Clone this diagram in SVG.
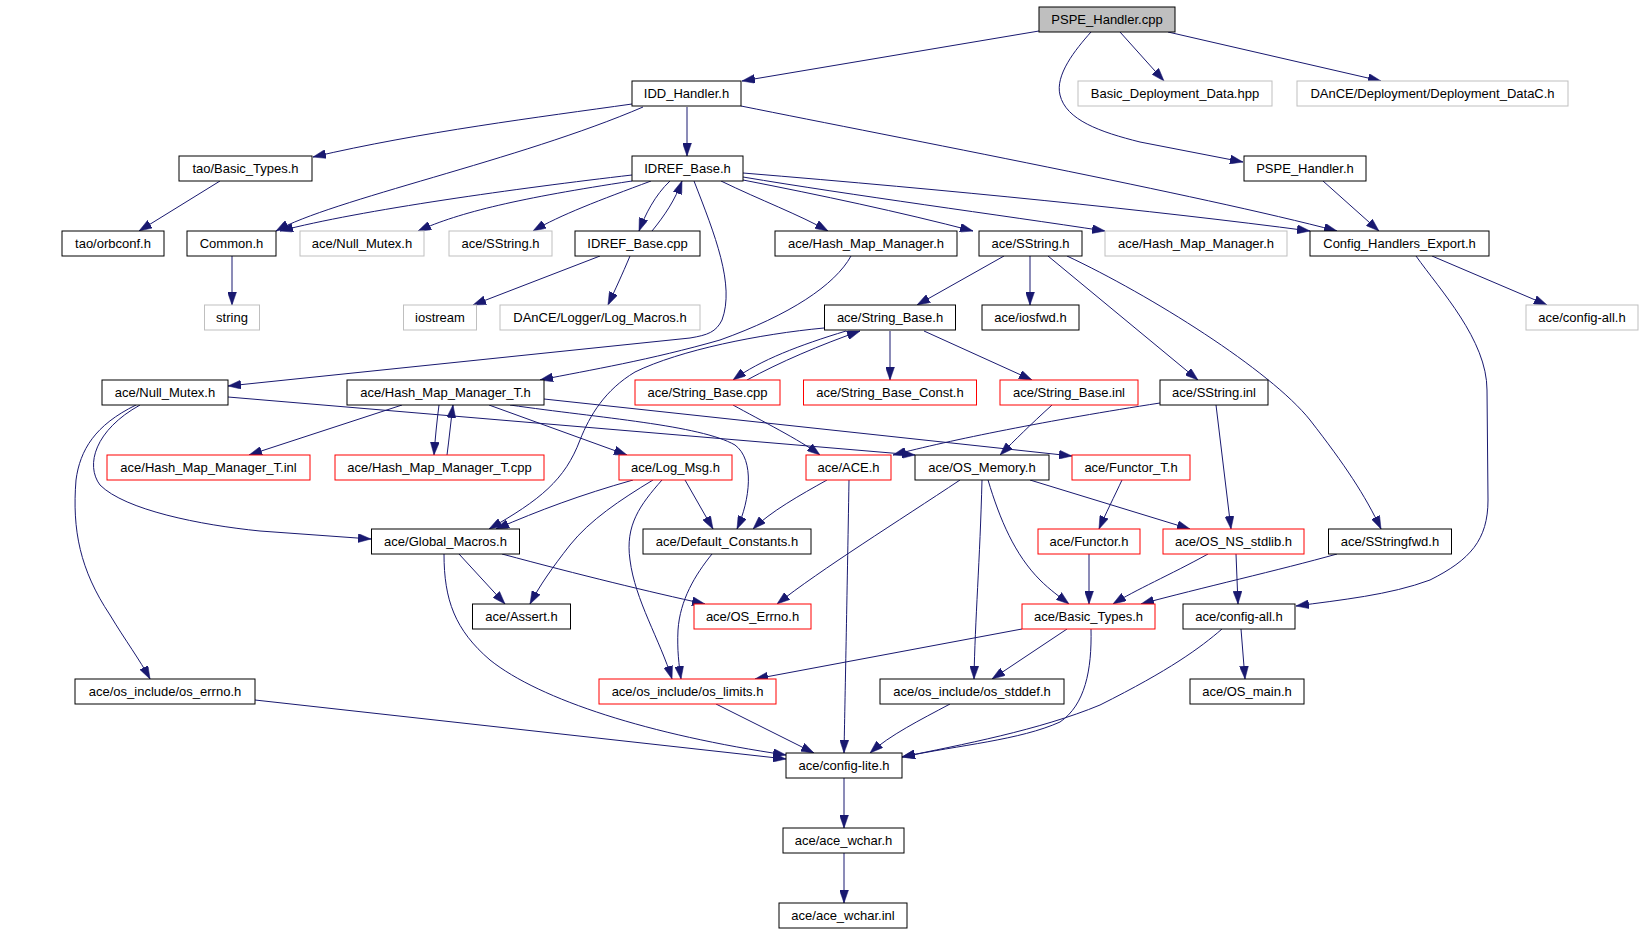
<svg xmlns="http://www.w3.org/2000/svg" width="1643" height="933" viewBox="0 0 1643 933">
<style>
rect{fill:#fff;stroke:#000;stroke-width:1}
.g rect{stroke:#bfbfbf}
.r rect{stroke:#ff0000}
.root rect{fill:#bfbfbf}
text{font-family:"Liberation Sans",Arial,sans-serif;font-size:13px;fill:#000;text-anchor:middle}
#edges path{fill:none;stroke:#191970;stroke-width:1;marker-end:url(#arr)}
</style>
<defs>
<marker id="arr" markerUnits="userSpaceOnUse" markerWidth="13" markerHeight="9" refX="13" refY="4.5" orient="auto">
<path d="M0,0 L13,4.5 L0,9 z" fill="#191970" stroke="#191970" stroke-width="0.5"/>
</marker>
</defs>
<rect x="0" y="0" width="1643" height="933" style="stroke:none;fill:#fff"/>
<g id="edges">
<path d="M1039,31 L742,81"/>
<path d="M1091,32 C1075,50 1055,75 1060,95 C1066,120 1100,132 1140,142 L1243,162"/>
<path d="M1120,32 L1164,81"/>
<path d="M1168,32 L1381,81"/>
<path d="M632,104 C540,117 420,132 313,157"/>
<path d="M643,107 C520,160 330,200 276,231"/>
<path d="M687,107 L687,156"/>
<path d="M741,106 C900,138 1200,195 1337,231"/>
<path d="M220,181 L139,231"/>
<path d="M232,256 L232,305"/>
<path d="M632,175 C520,188 360,210 280,231"/>
<path d="M632,181 C520,198 460,212 418,231"/>
<path d="M651,181 C600,200 560,215 533,231"/>
<path d="M670,181 C655,195 645,215 639,231"/>
<path d="M652,231 C665,215 675,200 682,181"/>
<path d="M694,181 C715,235 735,285 722,320 C716,332 708,335 690,338 L228,386"/>
<path d="M721,181 C760,200 800,215 828,231"/>
<path d="M743,180 C820,195 900,212 973,231"/>
<path d="M743,177 C850,195 1000,215 1105,231"/>
<path d="M743,173 C950,190 1150,210 1310,231"/>
<path d="M1323,181 L1379,231"/>
<path d="M1432,256 L1547,305"/>
<path d="M1416,256 C1440,290 1487,340 1487,390 L1488,500 C1488,540 1470,560 1430,580 C1390,595 1340,600 1296,606"/>
<path d="M1004,256 L917,305"/>
<path d="M1030,256 L1030,305"/>
<path d="M1048,256 L1198,380"/>
<path d="M1067,256 C1150,295 1270,370 1310,420 C1345,465 1365,495 1381,529"/>
<path d="M846,331 C800,345 760,360 733,380"/>
<path d="M747,380 C780,362 820,345 860,331"/>
<path d="M890,331 L890,380"/>
<path d="M924,331 L1032,380"/>
<path d="M824,328 C760,334 680,350 635,372 C605,390 590,415 580,440 C565,480 540,500 489,529"/>
<path d="M851,256 C835,285 790,315 720,340 C650,360 590,370 540,380"/>
<path d="M1160,403 C1050,420 950,440 893,455"/>
<path d="M1216,405 L1231,529"/>
<path d="M1052,405 C1030,425 1015,440 1000,455"/>
<path d="M733,405 C760,420 800,440 820,455"/>
<path d="M140,405 C95,430 85,465 100,485 C125,510 200,525 260,531 L371,539"/>
<path d="M136,405 C95,425 80,450 76,480 C72,530 80,570 110,615 C125,640 140,660 150,679"/>
<path d="M228,397 L915,455"/>
<path d="M402,405 L249,455"/>
<path d="M439,405 C437,420 435,440 434,455"/>
<path d="M447,455 C449,440 451,420 453,405"/>
<path d="M489,405 L627,455"/>
<path d="M510,405 C600,418 700,425 735,445 C755,460 750,500 737,529"/>
<path d="M544,399 L1072,456"/>
<path d="M633,480 C580,495 540,510 496,529"/>
<path d="M653,480 C620,500 590,520 570,545 C552,568 540,585 530,604"/>
<path d="M662,480 C640,505 625,525 630,560 C635,600 660,640 672,679"/>
<path d="M685,480 L713,529"/>
<path d="M827,480 C800,495 770,512 753,529"/>
<path d="M849,480 C847,600 845,700 844,753"/>
<path d="M960,480 C900,520 820,570 777,604"/>
<path d="M982,480 C980,560 975,620 974,679"/>
<path d="M988,480 C1000,520 1015,555 1040,580 C1050,590 1060,597 1069,604"/>
<path d="M1030,480 L1190,529"/>
<path d="M1122,480 C1115,495 1105,515 1099,529"/>
<path d="M1089,554 L1089,604"/>
<path d="M1208,554 C1170,575 1135,590 1113,604"/>
<path d="M1236,554 L1238,604"/>
<path d="M1337,554 C1280,570 1200,588 1141,604"/>
<path d="M459,554 L505,604"/>
<path d="M502,554 C580,575 650,592 705,604"/>
<path d="M444,554 C444,600 455,630 490,660 C540,700 650,735 786,755"/>
<path d="M255,700 L786,759"/>
<path d="M1022,629 L755,679"/>
<path d="M1067,629 L992,679"/>
<path d="M1091,629 C1092,670 1085,705 1060,722 C1020,740 960,745 902,757"/>
<path d="M1241,629 L1245,679"/>
<path d="M1222,629 C1200,648 1170,670 1100,705 C1040,730 960,745 902,757"/>
<path d="M716,704 L814,753"/>
<path d="M950,704 C920,720 890,735 870,753"/>
<path d="M712,554 C695,575 680,600 678,630 C677,650 679,665 681,679"/>
<path d="M844,778 L844,828"/>
<path d="M844,853 L844,903"/>
<path d="M600,256 L473,305"/>
<path d="M630,256 C622,275 615,290 608,305"/>
</g>
<g id="n1" class="root"><rect x="1039" y="7" width="136" height="25"/><text x="1107" y="24">PSPE_Handler.cpp</text></g>
<g id="n2"><rect x="632" y="81" width="109" height="25"/><text x="686.5" y="98">IDD_Handler.h</text></g>
<g id="n3" class="g"><rect x="1078" y="81" width="194" height="25"/><text x="1175" y="98">Basic_Deployment_Data.hpp</text></g>
<g id="n4" class="g"><rect x="1297" y="81" width="271" height="25"/><text x="1432.5" y="98">DAnCE/Deployment/Deployment_DataC.h</text></g>
<g id="n5"><rect x="179" y="156" width="133" height="25"/><text x="245.5" y="173">tao/Basic_Types.h</text></g>
<g id="n6"><rect x="632" y="156" width="111" height="25"/><text x="687.5" y="173">IDREF_Base.h</text></g>
<g id="n7"><rect x="1244" y="156" width="122" height="25"/><text x="1305" y="173">PSPE_Handler.h</text></g>
<g id="n8"><rect x="62" y="231" width="102" height="25"/><text x="113" y="248">tao/orbconf.h</text></g>
<g id="n9"><rect x="187" y="231" width="89" height="25"/><text x="231.5" y="248">Common.h</text></g>
<g id="n10" class="g"><rect x="300" y="231" width="124" height="25"/><text x="362" y="248">ace/Null_Mutex.h</text></g>
<g id="n11" class="g"><rect x="449" y="231" width="103" height="25"/><text x="500.5" y="248">ace/SString.h</text></g>
<g id="n12"><rect x="575" y="231" width="125" height="25"/><text x="637.5" y="248">IDREF_Base.cpp</text></g>
<g id="n13"><rect x="775" y="231" width="182" height="25"/><text x="866" y="248">ace/Hash_Map_Manager.h</text></g>
<g id="n14"><rect x="979" y="231" width="103" height="25"/><text x="1030.5" y="248">ace/SString.h</text></g>
<g id="n15" class="g"><rect x="1105" y="231" width="182" height="25"/><text x="1196" y="248">ace/Hash_Map_Manager.h</text></g>
<g id="n16"><rect x="1310" y="231" width="179" height="25"/><text x="1399.5" y="248">Config_Handlers_Export.h</text></g>
<g id="n17" class="g"><rect x="204.5" y="305" width="55" height="25"/><text x="232" y="322">string</text></g>
<g id="n18" class="g"><rect x="403.5" y="305" width="73" height="25"/><text x="440" y="322">iostream</text></g>
<g id="n19" class="g"><rect x="500" y="305" width="200" height="25"/><text x="600" y="322">DAnCE/Logger/Log_Macros.h</text></g>
<g id="n20"><rect x="824.5" y="305" width="131" height="25"/><text x="890" y="322">ace/String_Base.h</text></g>
<g id="n21"><rect x="982" y="305" width="97" height="25"/><text x="1030.5" y="322">ace/iosfwd.h</text></g>
<g id="n22" class="g"><rect x="1526" y="305" width="112" height="25"/><text x="1582" y="322">ace/config-all.h</text></g>
<g id="n23"><rect x="102" y="380" width="126" height="25"/><text x="165" y="397">ace/Null_Mutex.h</text></g>
<g id="n24"><rect x="347" y="380" width="197" height="25"/><text x="445.5" y="397">ace/Hash_Map_Manager_T.h</text></g>
<g id="n25" class="r"><rect x="635" y="380" width="145" height="25"/><text x="707.5" y="397">ace/String_Base.cpp</text></g>
<g id="n26" class="r"><rect x="803.5" y="380" width="173" height="25"/><text x="890" y="397">ace/String_Base_Const.h</text></g>
<g id="n27" class="r"><rect x="1000" y="380" width="138" height="25"/><text x="1069" y="397">ace/String_Base.inl</text></g>
<g id="n28"><rect x="1160" y="380" width="108" height="25"/><text x="1214" y="397">ace/SString.inl</text></g>
<g id="n29" class="r"><rect x="107" y="455" width="203" height="25"/><text x="208.5" y="472">ace/Hash_Map_Manager_T.inl</text></g>
<g id="n30" class="r"><rect x="335" y="455" width="209" height="25"/><text x="439.5" y="472">ace/Hash_Map_Manager_T.cpp</text></g>
<g id="n31" class="r"><rect x="619" y="455" width="113" height="25"/><text x="675.5" y="472">ace/Log_Msg.h</text></g>
<g id="n32" class="r"><rect x="806" y="455" width="85" height="25"/><text x="848.5" y="472">ace/ACE.h</text></g>
<g id="n33"><rect x="915" y="455" width="134" height="25"/><text x="982" y="472">ace/OS_Memory.h</text></g>
<g id="n34" class="r"><rect x="1072" y="455" width="118" height="25"/><text x="1131" y="472">ace/Functor_T.h</text></g>
<g id="n35"><rect x="371.5" y="529" width="148" height="25"/><text x="445.5" y="546">ace/Global_Macros.h</text></g>
<g id="n36"><rect x="643" y="529" width="168" height="25"/><text x="727" y="546">ace/Default_Constants.h</text></g>
<g id="n37" class="r"><rect x="1038" y="529" width="102" height="25"/><text x="1089" y="546">ace/Functor.h</text></g>
<g id="n38" class="r"><rect x="1163" y="529" width="141" height="25"/><text x="1233.5" y="546">ace/OS_NS_stdlib.h</text></g>
<g id="n39"><rect x="1328.5" y="529" width="123" height="25"/><text x="1390" y="546">ace/SStringfwd.h</text></g>
<g id="n40"><rect x="472.5" y="604" width="98" height="25"/><text x="521.5" y="621">ace/Assert.h</text></g>
<g id="n41" class="r"><rect x="694" y="604" width="117" height="25"/><text x="752.5" y="621">ace/OS_Errno.h</text></g>
<g id="n42" class="r"><rect x="1022" y="604" width="133" height="25"/><text x="1088.5" y="621">ace/Basic_Types.h</text></g>
<g id="n43"><rect x="1183" y="604" width="112" height="25"/><text x="1239" y="621">ace/config-all.h</text></g>
<g id="n44"><rect x="75" y="679" width="180" height="25"/><text x="165" y="696">ace/os_include/os_errno.h</text></g>
<g id="n45" class="r"><rect x="599" y="679" width="177" height="25"/><text x="687.5" y="696">ace/os_include/os_limits.h</text></g>
<g id="n46"><rect x="880" y="679" width="184" height="25"/><text x="972" y="696">ace/os_include/os_stddef.h</text></g>
<g id="n47"><rect x="1190" y="679" width="114" height="25"/><text x="1247" y="696">ace/OS_main.h</text></g>
<g id="n48"><rect x="786" y="753" width="116" height="25"/><text x="844" y="770">ace/config-lite.h</text></g>
<g id="n49"><rect x="783" y="828" width="121" height="25"/><text x="843.5" y="845">ace/ace_wchar.h</text></g>
<g id="n50"><rect x="779" y="903" width="128" height="25"/><text x="843" y="920">ace/ace_wchar.inl</text></g>
</svg>
